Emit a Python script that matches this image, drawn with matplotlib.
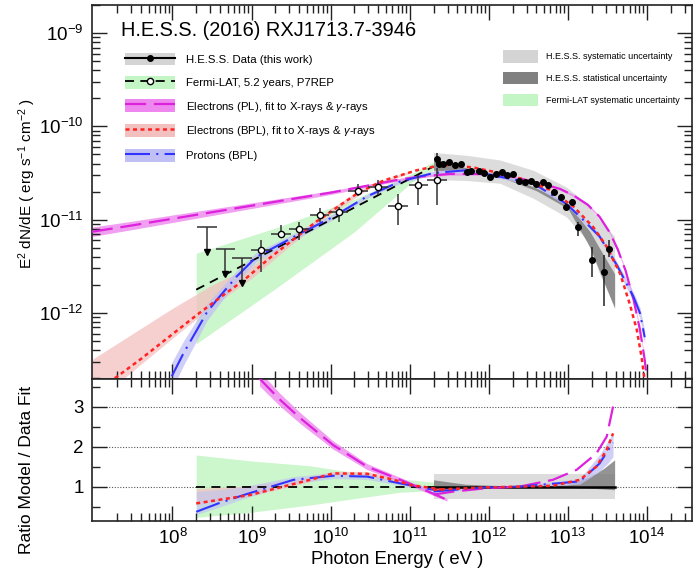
import numpy as np
import matplotlib
matplotlib.use("Agg")
import matplotlib.pyplot as plt
from matplotlib.patches import Patch
from matplotlib.lines import Line2D
from matplotlib.ticker import LogLocator, FixedLocator, MultipleLocator, NullFormatter

plt.rcParams['font.family'] = ['Liberation Sans', 'DejaVu Sans']
plt.rcParams['mathtext.fontset'] = 'custom'
plt.rcParams['mathtext.rm'] = 'Liberation Sans'
plt.rcParams['mathtext.it'] = 'Liberation Sans:italic'

# ---- data (log10 E [eV], log10 E^2 dN/dE [erg s-1 cm-2]) ----
# H.E.S.S. spectral points
hess_logE = [11.34, 11.37, 11.42, 11.50, 11.57, 11.65, 11.72, 11.78, 11.87, 11.94,
             12.01, 12.09, 12.16, 12.23, 12.31, 12.38, 12.46, 12.53, 12.60, 12.69,
             12.75, 12.82, 12.91, 12.97, 13.05, 13.13, 13.30, 13.46, 13.52]
hess_logF = [-10.35, -10.40, -10.40, -10.38, -10.41, -10.40, -10.49, -10.48, -10.48, -10.50,
             -10.54, -10.51, -10.49, -10.52, -10.51, -10.59, -10.60, -10.59, -10.62, -10.60,
             -10.63, -10.70, -10.76, -10.86, -10.81, -11.08, -11.43, -11.56, -11.31]
hess_up = [0.07, 0.02, 0.02, 0.02, 0.02, 0.02, 0.02, 0.02, 0.02, 0.02,
           0.02, 0.02, 0.02, 0.02, 0.02, 0.02, 0.02, 0.02, 0.02, 0.02,
           0.02, 0.03, 0.03, 0.04, 0.03, 0.06, 0.14, 0.18, 0.09]
hess_dn = [0.05, 0.02, 0.02, 0.02, 0.02, 0.02, 0.02, 0.02, 0.02, 0.02,
           0.02, 0.02, 0.02, 0.02, 0.02, 0.02, 0.02, 0.02, 0.02, 0.02,
           0.02, 0.03, 0.03, 0.04, 0.03, 0.10, 0.18, 0.36, 0.09]

# Fermi-LAT points, upper limits and power-law fit
fermi_logE = [9.12, 9.37, 9.60, 9.86, 10.10, 10.35, 10.60, 10.85, 11.11, 11.34]
fermi_logF = [-11.32, -11.15, -11.10, -10.95, -10.92, -10.69, -10.65, -10.85, -10.63, -10.58]
fermi_hi = [-11.22, -11.06, -11.02, -10.88, -10.86, -10.62, -10.58, -10.72, -10.52, -10.45]
fermi_lo = [-11.56, -11.20, -11.22, -11.02, -11.02, -10.75, -10.74, -11.06, -10.84, -10.84]
fermi_binhw = 0.125
ul_logE = [8.44, 8.67, 8.88]
ul_logF = [-11.08, -11.31, -11.41]
fermi_fit_logE = [8.30, 11.30]
fermi_fit_logF = [-11.75, -10.43]
fermi_sys_logE = [8.30, 9.30, 10.30, 11.04, 11.30]
fermi_sys_hi = [-11.36, -11.09, -10.78, -10.50, -10.38]
fermi_sys_lo = [-12.33, -11.74, -11.13, -10.59, -10.47]

# H.E.S.S. bands
hsys_logE = [11.30, 11.72, 12.14, 12.56, 12.98, 13.24, 13.40, 13.59]
hsys_hi = [-10.28, -10.31, -10.36, -10.47, -10.65, -10.83, -11.00, -11.18]
hsys_lo = [-10.57, -10.58, -10.61, -10.77, -10.97, -11.22, -11.58, -11.93]
hstat_logE = [11.30, 11.70, 12.20, 12.60, 13.00, 13.28, 13.45, 13.59]
hstat_hi = [-10.37, -10.44, -10.53, -10.66, -10.83, -11.13, -11.38, -11.58]
hstat_lo = [-10.47, -10.48, -10.56, -10.69, -10.88, -11.30, -11.66, -11.95]

# models
pl_logE = [6.98, 7.5, 8.0, 8.5, 9.0, 9.5, 10.0, 10.5, 10.8, 11.1, 11.5, 11.9, 12.3,
           12.65, 12.9, 13.07, 13.25, 13.40, 13.53, 13.63, 13.73, 13.83, 13.91, 13.97, 14.0]
pl_logF = [-11.13, -11.06, -10.99, -10.92, -10.85, -10.78, -10.71, -10.63, -10.58, -10.54,
           -10.51, -10.51, -10.54, -10.61, -10.67, -10.74, -10.84, -10.97, -11.14, -11.32,
           -11.55, -11.86, -12.18, -12.50, -12.72]
pl_hw = [0.05, 0.045, 0.04, 0.035, 0.03, 0.025, 0.02, 0.015, 0.015, 0.012, 0.012, 0.012, 0.012,
         0.012, 0.012, 0.012, 0.012, 0.012, 0.012, 0.015, 0.015, 0.02, 0.02, 0.02, 0.02]

bpl_logE = [7.27, 7.59, 8.01, 8.31, 8.64, 8.90, 9.23, 9.82, 10.35, 10.67, 11.09, 11.42,
            11.8, 12.14, 12.45, 12.77, 13.07, 13.32, 13.49, 13.66, 13.78, 13.87, 13.93, 13.97]
bpl_logF = [-12.70, -12.50, -12.22, -12.02, -11.81, -11.65, -11.41, -11.02, -10.71, -10.58,
            -10.47, -10.41, -10.44, -10.50, -10.57, -10.68, -10.86, -11.08, -11.29, -11.58,
            -11.90, -12.18, -12.47, -12.72]
pink_logE = [6.98, 7.5, 8.0, 8.5, 9.0, 9.5, 10.0, 10.5, 11.0]
pink_hi = [-12.50, -12.22, -11.95, -11.70, -11.50, -11.20, -10.88, -10.62, -10.48]
pink_lo = [-13.00, -12.62, -12.27, -11.93, -11.63, -11.27, -10.94, -10.66, -10.50]

prot_logE = [7.99, 8.14, 8.31, 8.43, 8.56, 8.81, 9.06, 9.61, 10.03, 10.46, 10.88, 11.30,
             11.72, 12.14, 12.56, 12.98, 13.19, 13.40, 13.62, 13.83, 13.91, 13.97]
prot_logF = [-12.68, -12.43, -12.18, -12.00, -11.86, -11.61, -11.40, -11.15, -10.97, -10.75,
             -10.59, -10.50, -10.47, -10.54, -10.61, -10.83, -11.00, -11.18, -11.49, -11.83,
             -12.00, -12.26]
prot_hw = [0.15, 0.13, 0.11, 0.09, 0.08, 0.06, 0.05, 0.035, 0.03, 0.02, 0.02, 0.02,
           0.02, 0.02, 0.02, 0.02, 0.025, 0.03, 0.04, 0.05, 0.06, 0.07]

# ---- ratio panel ----
r_green_logE = [8.30, 9.00, 9.74, 10.30, 10.88, 11.30]
r_green_hi = [1.79, 1.64, 1.52, 1.35, 1.19, 1.11]
r_green_lo = [0.23, 0.36, 0.54, 0.70, 0.86, 0.90]
r_hsys_logE = [11.30, 13.59]
r_hsys_hi = [1.32, 1.32]
r_hsys_lo = [0.69, 0.69]
r_hstat_logE = [11.30, 11.70, 12.20, 12.60, 13.00, 13.28, 13.45, 13.59]
r_hstat_hi = [1.17, 1.06, 1.02, 1.02, 1.05, 1.25, 1.45, 1.67]
r_hstat_lo = [0.88, 0.95, 0.99, 0.99, 0.98, 0.96, 0.94, 0.92]

r_pl_f_logE = [9.10, 9.36, 9.61, 10.03, 10.46, 10.88, 11.09, 11.30, 11.47]
r_pl_f = [3.70, 3.17, 2.72, 2.04, 1.50, 1.17, 1.00, 0.82, 0.67]
r_pl_h_logE = [11.30, 11.55, 11.97, 12.39, 12.81, 13.11, 13.36, 13.49, 13.57]
r_pl_h = [0.80, 0.875, 0.96, 1.00, 1.17, 1.42, 1.83, 2.25, 3.00]

r_bpl_f_logE = [8.30, 8.98, 9.74, 10.03, 10.46, 10.80, 11.01, 11.43]
r_bpl_f = [0.58, 0.79, 1.17, 1.33, 1.32, 1.17, 1.04, 0.92]
r_bpl_f_hi = [0.95, 1.02, 1.25, 1.38, 1.38, 1.22, 1.07, 0.95]
r_bpl_f_lo = [0.55, 0.76, 1.12, 1.28, 1.27, 1.12, 1.00, 0.89]
r_bpl_h_logE = [11.30, 11.97, 12.81, 13.15, 13.36, 13.49, 13.57]
r_bpl_h = [0.92, 0.98, 1.02, 1.17, 1.50, 1.92, 2.33]

r_prot_f_logE = [8.30, 8.58, 8.90, 9.53, 10.03, 10.46, 10.88, 11.30]
r_prot_f = [0.37, 0.58, 0.79, 1.17, 1.27, 1.25, 1.08, 0.92]
r_prot_f_hi = [0.88, 0.92, 1.00, 1.25, 1.35, 1.32, 1.12, 0.96]
r_prot_f_lo = [0.30, 0.48, 0.70, 1.08, 1.20, 1.18, 1.03, 0.88]
r_prot_h_logE = [11.30, 11.97, 12.39, 13.15, 13.40, 13.51, 13.57]
r_prot_h = [0.88, 0.98, 1.00, 1.13, 1.58, 1.92, 2.10]
r_prot_h_hi = [0.92, 1.00, 1.02, 1.20, 1.80, 2.15, 2.35]
r_prot_h_lo = [0.84, 0.96, 0.98, 1.06, 1.38, 1.60, 1.75]

# colours
c_mag = '#dd22dd'
c_red = '#ff2424'
c_blue = '#3333ff'
c_green_band = '#c4f5c4'
c_pink_band = '#f3c0c0'
c_lav_band = '#c0c0f5'
c_mag_band = '#ee88ee'
c_hsys = '#d4d4d4'
c_hstat = '#7a7a7a'

W, H = 694, 576
fig = plt.figure(figsize=(W / 100, H / 100), dpi=100)
left, right = 92, 692
ax1 = fig.add_axes([left / W, 1 - 379 / H, (right - left) / W, (379 - 5) / H])
ax2 = fig.add_axes([left / W, 1 - 521 / H, (right - left) / W, (521 - 379) / H])

E = lambda a: 10 ** np.asarray(a, dtype=float)

pl_dash = (9.5, 3.5)
bpl_dash = (1.6, 1.4)
prot_dash = (12, 3, 1, 3)
fermi_dash = (5, 3.5)

# ---------- top panel ----------
ax1.fill_between(E(fermi_sys_logE), E(fermi_sys_lo), E(fermi_sys_hi), color=c_green_band, lw=0, alpha=0.85, zorder=1)
ax1.fill_between(E(hsys_logE), E(hsys_lo), E(hsys_hi), color=c_hsys, lw=0, alpha=0.8, zorder=1)
ax1.fill_between(E(hstat_logE), E(hstat_lo), E(hstat_hi), color=c_hstat, lw=0, alpha=0.8, zorder=1.2)
ax1.fill_between(E(pink_logE), E(pink_lo), E(pink_hi), color=c_pink_band, lw=0, alpha=0.75, zorder=1.3)
pe, pf, ph = np.array(prot_logE), np.array(prot_logF), np.array(prot_hw)
ax1.fill_between(E(pe), E(pf - ph), E(pf + ph), color=c_lav_band, lw=0, alpha=0.75, zorder=1.3)
me, mf, mh = np.array(pl_logE), np.array(pl_logF), np.array(pl_hw)
ax1.fill_between(E(me), E(mf - mh), E(mf + mh), color=c_mag_band, lw=0, alpha=0.8, zorder=1.3)

ax1.plot(E(fermi_fit_logE), E(fermi_fit_logF), color='k', lw=1.3, dashes=fermi_dash, zorder=3)
ax1.plot(E(pl_logE), E(pl_logF), color=c_mag, lw=1.6, dashes=pl_dash, zorder=3)
ax1.plot(E(prot_logE), E(prot_logF), color=c_blue, lw=1.5, dashes=prot_dash, zorder=3.1)
ax1.plot(E(bpl_logE), E(bpl_logF), color=c_red, lw=1.8, dashes=bpl_dash, zorder=3.2)

# Fermi points
fx, fy = np.array(fermi_logE), np.array(fermi_logF)
ax1.errorbar(E(fx), E(fy),
             xerr=[E(fx) - E(fx - fermi_binhw), E(fx + fermi_binhw) - E(fx)],
             yerr=[E(fy) - E(fermi_lo), E(fermi_hi) - E(fy)],
             fmt='o', ms=4.5, mfc='white', mec='k', mew=1.0, ecolor='#333333', elinewidth=1.1,
             capsize=0, zorder=5)
# upper limits
ux, uy = np.array(ul_logE), np.array(ul_logF)
ax1.hlines(E(uy), E(ux - fermi_binhw), E(ux + fermi_binhw), color='#333333', lw=1.1, zorder=5)
ax1.vlines(E(ux), E(uy - 0.27), E(uy), color='#333333', lw=1.1, zorder=5)
ax1.plot(E(ux), E(uy - 0.27), 'v', color='k', ms=5, zorder=5)

# H.E.S.S. points
hx, hy = np.array(hess_logE), np.array(hess_logF)
ax1.errorbar(E(hx), E(hy), yerr=[E(hy) - E(hy - np.array(hess_dn)), E(hy + np.array(hess_up)) - E(hy)],
             fmt='o', ms=4, color='k', ecolor='#222222', elinewidth=1.1, capsize=0, zorder=6)

ax1.set_xscale('log')
ax1.set_yscale('log')
ax1.set_xlim(9.6e6, 3.7e14)
ax1.set_ylim(1.96e-13, 2.0e-9)

# ---------- ratio panel ----------
ax2.fill_between(E(r_green_logE), r_green_lo, r_green_hi, color=c_green_band, lw=0, alpha=0.85, zorder=1)
ax2.fill_between(E(r_hsys_logE), r_hsys_lo, r_hsys_hi, color=c_hsys, lw=0, alpha=0.8, zorder=1)
ax2.fill_between(E(r_hstat_logE), r_hstat_lo, r_hstat_hi, color=c_hstat, lw=0, alpha=0.8, zorder=1.2)
ax2.fill_between(E(r_bpl_f_logE), r_bpl_f_lo, r_bpl_f_hi, color=c_pink_band, lw=0, alpha=0.7, zorder=1.3)
ax2.fill_between(E(r_prot_f_logE), r_prot_f_lo, r_prot_f_hi, color=c_lav_band, lw=0, alpha=0.6, zorder=1.3)
ax2.fill_between(E(r_prot_h_logE), r_prot_h_lo, r_prot_h_hi, color=c_lav_band, lw=0, alpha=0.75, zorder=1.3)
rp = np.array(r_pl_f)
ax2.fill_between(E(r_pl_f_logE), rp * 0.95, rp * 1.05, color=c_mag_band, lw=0, alpha=0.8, zorder=1.3)

for yv in (1, 2, 3):
    ax2.axhline(yv, color='#555555', lw=0.8, ls=(0, (1, 1.5)), zorder=0.5)

ax2.plot(E(fermi_fit_logE), np.ones(len(fermi_fit_logE)), color='k', lw=1.3, dashes=fermi_dash, zorder=3)
ax2.plot(E(r_hsys_logE), np.ones(len(r_hsys_logE)), color='k', lw=1.8, zorder=3)
ax2.plot(E(r_pl_f_logE), r_pl_f, color=c_mag, lw=1.6, dashes=pl_dash, zorder=3)
ax2.plot(E(r_pl_h_logE), r_pl_h, color=c_mag, lw=1.6, dashes=pl_dash, zorder=3)
ax2.plot(E(r_prot_f_logE), r_prot_f, color=c_blue, lw=1.5, dashes=prot_dash, zorder=3.1)
ax2.plot(E(r_prot_h_logE), r_prot_h, color=c_blue, lw=1.5, dashes=prot_dash, zorder=3.1)
ax2.plot(E(r_bpl_f_logE), r_bpl_f, color=c_red, lw=1.8, dashes=bpl_dash, zorder=3.2)
ax2.plot(E(r_bpl_h_logE), r_bpl_h, color=c_red, lw=1.8, dashes=bpl_dash, zorder=3.2)

ax2.set_xscale('log')
ax2.set_xlim(ax1.get_xlim())
ax2.set_ylim(0.14, 3.69)

# ---------- axes styling ----------
for ax in (ax1, ax2):
    ax.xaxis.set_major_locator(FixedLocator([1e8, 1e9, 1e10, 1e11, 1e12, 1e13, 1e14]))
    ax.xaxis.set_minor_locator(LogLocator(base=10, subs=np.arange(2, 10), numticks=30))
    ax.xaxis.set_minor_formatter(NullFormatter())
    ax.tick_params(which='both', direction='in', top=True, right=True, width=1.0, colors='#222222',
                   labelcolor='black', labelsize=13.5)
    ax.tick_params(which='major', length=11)
    ax.tick_params(which='minor', length=6)
    for s in ax.spines.values():
        s.set_linewidth(1.2)
        s.set_color('#222222')
ax1.tick_params(axis='x', labelbottom=False)
ax1.tick_params(axis='y', pad=6)
ax1.yaxis.set_major_locator(FixedLocator([1e-12, 1e-11, 1e-10, 1e-9]))
ax1.yaxis.set_minor_locator(LogLocator(base=10, subs=np.arange(2, 10), numticks=30))
ax1.yaxis.set_minor_formatter(NullFormatter())
ax2.yaxis.set_major_locator(FixedLocator([1, 2, 3]))
ax2.yaxis.set_minor_locator(MultipleLocator(0.5))
ax2.tick_params(axis='x', pad=5)
ax2.tick_params(axis='y', pad=6)

fig.text(27 / W, 1 - 183 / H, r'E$^{2}$ dN/dE ( erg s$^{\mathregular{-1}}$ cm$^{\mathregular{-2}}$ )',
         rotation=90, ha='center', va='center', fontsize=11)
fig.text(27 / W, 1 - 470 / H, 'Ratio Model / Data Fit', rotation=90, ha='center', va='center', fontsize=12.5)
fig.text(397 / W, 1 - 560 / H, 'Photon Energy ( eV )', ha='center', va='center', fontsize=13.3)

ax1.text(0.049, 0.917, 'H.E.S.S. (2016) RXJ1713.7-3946', transform=ax1.transAxes,
         fontsize=14.4, ha='left', va='baseline')

# left legend
h_hess = (Patch(fc=c_hsys, ec='none'), Line2D([], [], color='k', lw=1.5, marker='o', ms=4))
h_fermi = (Patch(fc=c_green_band, ec='none'),
           Line2D([], [], color='k', lw=1.3, dashes=fermi_dash, marker='o', ms=4.5, mfc='white', mec='k'))
h_pl = (Patch(fc=c_mag_band, ec='none'), Line2D([], [], color=c_mag, lw=1.6, dashes=pl_dash))
h_bpl = (Patch(fc=c_pink_band, ec='none'), Line2D([], [], color=c_red, lw=1.8, dashes=bpl_dash))
h_prot = (Patch(fc=c_lav_band, ec='none'), Line2D([], [], color=c_blue, lw=1.5, dashes=prot_dash))
leg1 = ax1.legend([h_hess, h_fermi, h_pl, h_bpl, h_prot],
                  ['H.E.S.S. Data (this work)', 'Fermi-LAT, 5.2 years, P7REP',
                   r'Electrons (PL), fit to X-rays & $\gamma$-rays',
                   r'Electrons (BPL), fit to X-rays & $\gamma$-rays', 'Protons (BPL)'],
                  loc='upper left', bbox_to_anchor=((125 - left) / 600, (379 - 52.5) / 374),
                  frameon=False, fontsize=8.2, borderpad=0, borderaxespad=0,
                  handlelength=4.4, handleheight=1.33, labelspacing=0.95, handletextpad=0.95)
ax1.add_artist(leg1)

h_s = [Patch(fc=c_hsys, ec='none'), Patch(fc='#808080', ec='none'), Patch(fc=c_green_band, ec='none')]
ax1.legend(h_s, ['H.E.S.S. systematic uncertainty', 'H.E.S.S. statistical uncertainty',
                 'Fermi-LAT systematic uncertainty'],
           loc='upper left', bbox_to_anchor=((503 - left) / 600, (379 - 50.5) / 374),
           frameon=False, fontsize=6.5, borderpad=0, borderaxespad=0,
           handlelength=3.9, handleheight=1.67, labelspacing=1.1, handletextpad=0.85)

fig.savefig('out.png', dpi=100)
